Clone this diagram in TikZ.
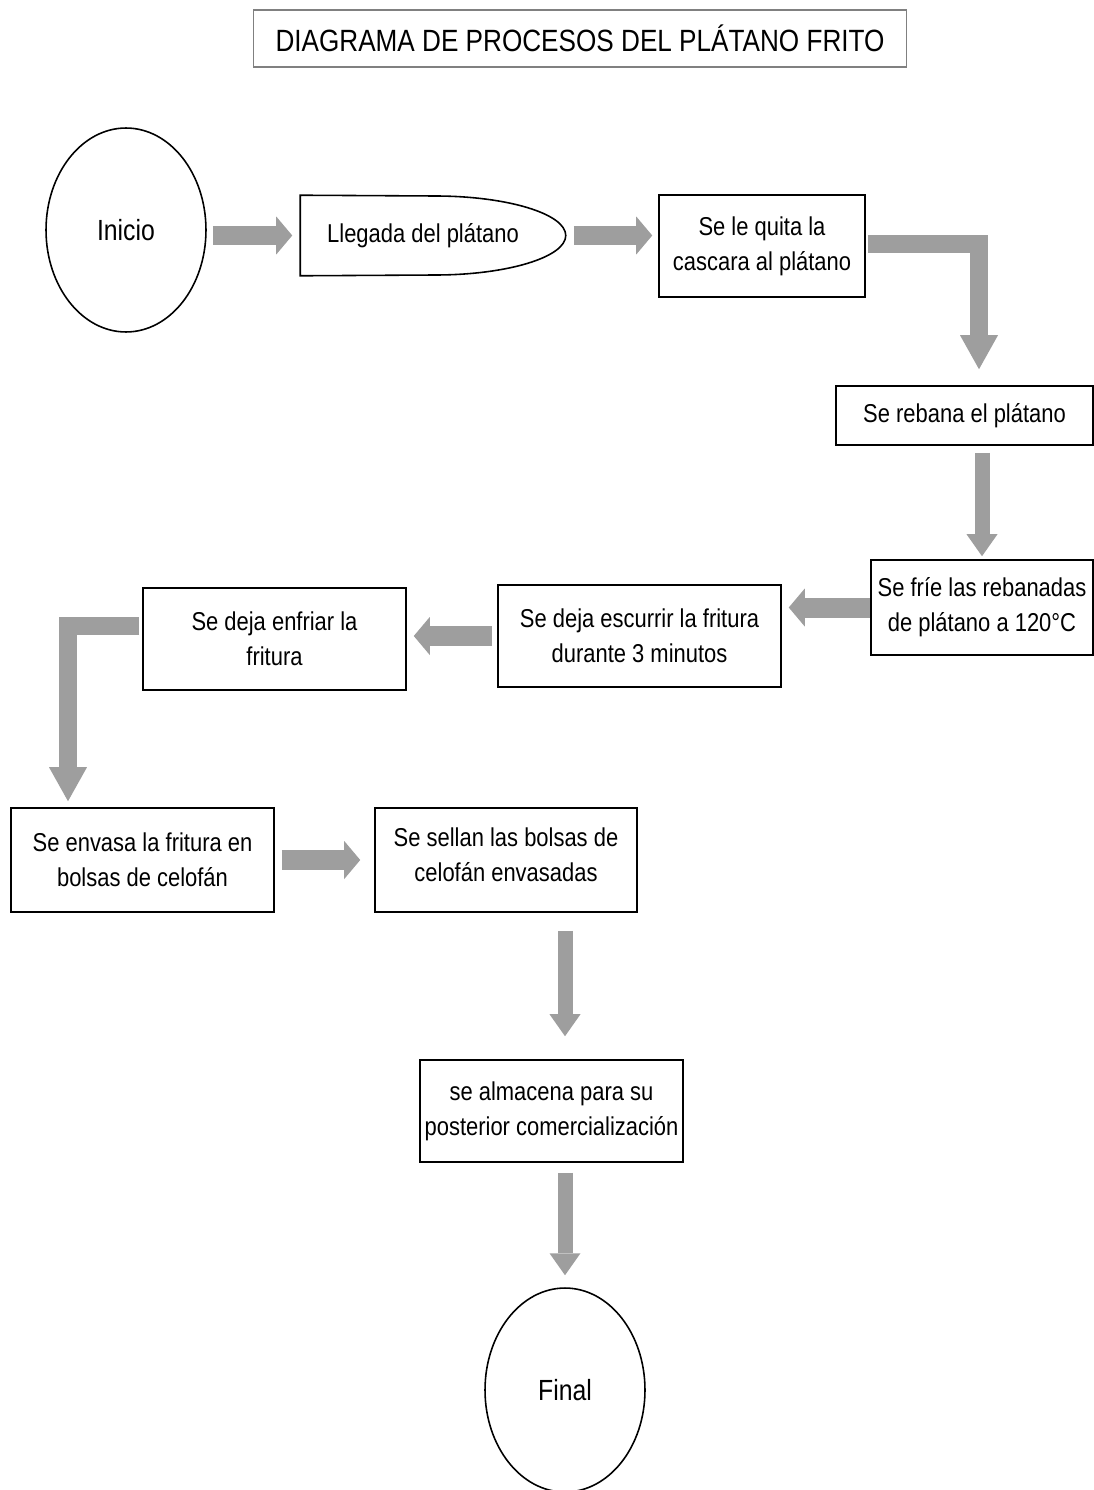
\documentclass[tikz,border=0pt]{standalone}
\usepackage{fontspec}
\setmainfont{Liberation Sans}[FakeStretch=0.85]
\usetikzlibrary{shapes.geometric,arrows.meta}

\definecolor{flechagris}{RGB}{158,158,158}

\begin{document}
\begin{tikzpicture}[x=0.02cm, y=-0.02cm,
    caja/.style={draw, line width=0.9pt, inner sep=0pt, align=center, font=\fontsize{14.7}{19.8}\selectfont},
    terminal/.style={ellipse, draw, line width=0.9pt, inner sep=0pt, minimum width=3.2cm, minimum height=4.08cm, font=\fontsize{16.6}{20}\selectfont},
    flechah/.style={draw=flechagris, line width=0.4cm, -{Triangle[width=0.76cm, length=0.32cm, line width=0pt]}},
    flechav/.style={draw=flechagris, line width=0.3cm, -{Triangle[width=0.62cm, length=0.44cm, line width=0pt]}},
    flechab/.style={draw=flechagris, line width=0.36cm, -{Triangle[width=0.76cm, length=0.68cm, line width=0pt]}}]
    \useasboundingbox (0,0) rectangle (1094,1490);

    % titulo
    \node[draw=gray, line width=0.6pt, inner sep=0pt, minimum width=13.08cm, minimum height=1.14cm,
          font=\fontsize{17.5}{20}\selectfont] (titulo) at (580,38.5) {DIAGRAMA DE PROCESOS DEL PLÁTANO FRITO};

    % nodos
    \node[terminal] (inicio) at (126,230) {Inicio};
    \node[caja, draw=none, minimum width=5.28cm, minimum height=1.58cm] (llegada) at (433,235.5) {\hspace*{-0.4cm}Llegada del plátano};
    \draw[line width=0.9pt] (llegada.north west) -- (435,196)
        .. controls (506.8,196) and (llegada.east |- 213.7,213.7) .. (llegada.east)
        .. controls (llegada.east |- 257.3,257.3) and (506.8,275) .. (435,275)
        -- (llegada.south west) -- cycle;
    \node[caja, minimum width=4.12cm, minimum height=2.04cm] (quita) at (762,246) {Se le quita la\\cascara al plátano};
    \node[caja, minimum width=5.14cm, minimum height=1.18cm] (rebana) at (964.5,415.5) {Se rebana el plátano};
    \node[caja, minimum width=4.44cm, minimum height=1.9cm] (frie) at (982,607.5) {Se fríe las rebanadas\\de plátano a 120°C};
    \node[caja, minimum width=5.66cm, minimum height=2.04cm] (escurrir) at (639.5,636) {Se deja escurrir la fritura\\durante 3 minutos};
    \node[caja, minimum width=5.26cm, minimum height=2.04cm] (enfriar) at (274.5,639) {Se deja enfriar la\\fritura};
    \node[caja, minimum width=5.26cm, minimum height=2.08cm] (envasa) at (142.5,860) {Se envasa la fritura en\\bolsas de celofán};
    \node[caja, minimum width=5.24cm, minimum height=2.08cm] (sellan) at (506,860) {Se sellan las bolsas de\\celofán envasadas\vspace*{0.2cm}};
    \node[caja, minimum width=5.26cm, minimum height=2.04cm] (almacena) at (551.5,1111) {se almacena para su\\posterior comercialización};
    \node[terminal] (final) at (565,1390) {Final};

    \coordinate (codo1) at (979,244);
    \coordinate (codo2) at (68,626);

    % flechas
    \draw[flechah, shorten <=0.12cm, shorten >=0.16cm] (inicio.east |- llegada.west) -- (llegada.west);
    \draw[flechah, shorten <=0.16cm, shorten >=0.12cm] (llegada.east) -- (llegada.east -| quita.west);
    \draw[flechab, shorten <=0.04cm, shorten >=0.32cm] (quita.east |- codo1) -- (codo1) -- (codo1 |- rebana.north);
    \draw[flechav, shorten <=0.14cm, shorten >=0.06cm] (rebana.south -| frie.north) -- (frie.north);
    \draw[flechah, shorten >=0.14cm] (frie.west) -- (frie.west -| escurrir.east);
    \draw[flechah, shorten <=0.1cm, shorten >=0.14cm] (escurrir.west) -- (escurrir.west -| enfriar.east);
    \draw[flechab, shorten <=0.06cm, shorten >=0.12cm] (enfriar.west |- codo2) -- (codo2) -- (codo2 |- envasa.north);
    \draw[flechah, shorten <=0.14cm, shorten >=0.28cm] (envasa.east) -- (sellan.west);
    \draw[flechav, shorten <=0.36cm, shorten >=0.46cm] (sellan.south -| final) -- (almacena.north -| final);
    \draw[flechav, shorten <=0.2cm, shorten >=0.24cm] (almacena.south -| final) -- (final.north);
\end{tikzpicture}
\end{document}
